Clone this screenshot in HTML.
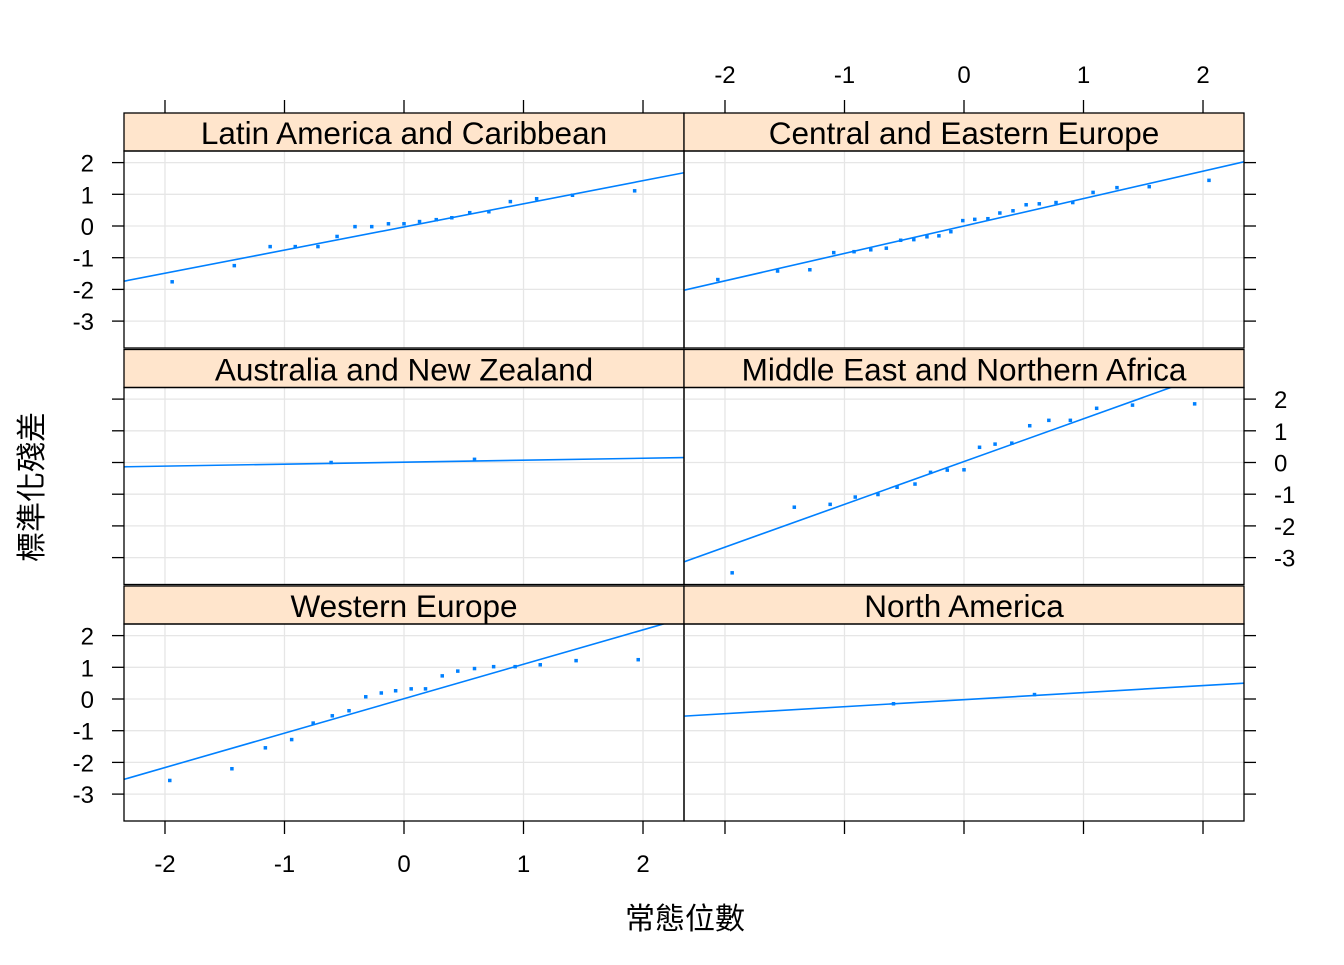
<!DOCTYPE html>
<html><head><meta charset="utf-8"><style>
body{margin:0;background:#fff}
svg text{font-family:"Liberation Sans","Noto Sans CJK TC",sans-serif;fill:#000}
</style></head><body>
<svg id="c" width="1344" height="960" xmlns="http://www.w3.org/2000/svg"></svg>
<script>
const panelNames = ["Latin America and Caribbean","Central and Eastern Europe","Australia and New Zealand","Middle East and Northern Africa","Western Europe","North America"];
const xTicks = [-2,-1,0,1,2];
const yTicks = [2,1,0,-1,-2,-3];
const latX = [-1.94,-1.42,-1.12,-0.91,-0.72,-0.56,-0.41,-0.27,-0.13,0.00,0.13,0.27,0.40,0.55,0.71,0.89,1.11,1.41,1.93];
const latY = [-1.76,-1.25,-0.65,-0.65,-0.65,-0.33,-0.02,-0.02,0.07,0.07,0.14,0.20,0.26,0.42,0.45,0.77,0.86,0.97,1.11];
const ceeX = [-2.06,-1.56,-1.29,-1.09,-0.92,-0.78,-0.65,-0.53,-0.42,-0.31,-0.21,-0.11,-0.01,0.09,0.20,0.30,0.41,0.52,0.63,0.77,0.91,1.08,1.28,1.55,2.05];
const ceeY = [-1.69,-1.42,-1.38,-0.84,-0.81,-0.75,-0.70,-0.45,-0.43,-0.34,-0.31,-0.18,0.17,0.21,0.23,0.41,0.48,0.67,0.70,0.74,0.74,1.06,1.21,1.24,1.44];
const ausX = [-0.61,0.59];
const ausY = [0.00,0.10];
const meX = [-1.94,-1.42,-1.12,-0.91,-0.72,-0.56,-0.41,-0.28,-0.14,0.00,0.13,0.26,0.40,0.55,0.71,0.89,1.11,1.41,1.93];
const meY = [-3.48,-1.41,-1.32,-1.09,-1.01,-0.78,-0.68,-0.31,-0.24,-0.23,0.48,0.58,0.61,1.16,1.33,1.33,1.71,1.81,1.85];
const weX = [-1.96,-1.44,-1.16,-0.94,-0.76,-0.60,-0.46,-0.32,-0.19,-0.07,0.06,0.18,0.32,0.45,0.59,0.75,0.93,1.14,1.44,1.96];
const weY = [-2.57,-2.20,-1.54,-1.28,-0.76,-0.53,-0.37,0.07,0.19,0.26,0.32,0.32,0.73,0.88,0.96,1.02,1.02,1.08,1.21,1.24];
const naX = [-0.59,0.59];
const naY = [-0.15,0.14];
const lineSlope = [0.73,0.865,0.062,1.35,1.086,0.222];
const lineIntercept = [-0.03,0.0,0.01,0.03,0.01,-0.02];
const seriesX = [latX,ceeX,ausX,meX,weX,naX];
const seriesY = [latY,ceeY,ausY,meY,weY,naY];

const NS="http://www.w3.org/2000/svg";
const svg=document.getElementById('c');
function mk(tag,attrs,parent){const e=document.createElementNS(NS,tag);for(const k in attrs)e.setAttribute(k,attrs[k]);(parent||svg).appendChild(e);return e;}
const colL=[124,684], W=560, PH=197;
const rowStrip=[113,349.5,586], SH=38;
const XMIN=-2.343, XMAX=2.343, YTOP=2.366, UNIT_Y=31.7;
function sx(col,v){return colL[col]+(v-XMIN)/(XMAX-XMIN)*W;}
function sy(row,v){return rowStrip[row]+SH+(YTOP-v)*UNIT_Y;}
const defs=mk('defs',{});
for(let p=0;p<6;p++){
  const col=p%2,row=Math.floor(p/2);
  const x0=colL[col],ps=rowStrip[row]+SH;
  const cp=mk('clipPath',{id:'cp'+p},defs);
  mk('rect',{x:x0,y:ps,width:W,height:PH},cp);
  const g=mk('g',{});
  
  
  for(const t of xTicks){const l=mk('line',{x1:sx(col,t),x2:sx(col,t),y1:ps,y2:ps+PH,stroke:'#e6e6e6','stroke-width':1.3},g);
    }
  for(const t of yTicks){const l=mk('line',{x1:x0,x2:x0+W,y1:sy(row,t),y2:sy(row,t),stroke:'#e6e6e6','stroke-width':1.3},g);
    }
  const ln=mk('line',{x1:sx(col,XMIN),y1:sy(row,lineIntercept[p]+lineSlope[p]*XMIN),x2:sx(col,XMAX),y2:sy(row,lineIntercept[p]+lineSlope[p]*XMAX),stroke:'#0080ff','stroke-width':1.6,'clip-path':'url(#cp'+p+')'},g);
  
  
  const xs=seriesX[p],ys=seriesY[p];
  for(let i=0;i<xs.length;i++){
    const r=mk('rect',{x:sx(col,xs[i])-1.75,y:sy(row,ys[i])-1.75,width:3.5,height:3.5,fill:'#0080ff','clip-path':'url(#cp'+p+')'},g);
    
    
  }
  const st=mk('rect',{x:x0,y:rowStrip[row],width:W,height:SH,fill:'#ffe5cc',stroke:'#000','stroke-width':1.3},g);
  
  
  const tx=mk('text',{x:x0+W/2,y:rowStrip[row]+31,'text-anchor':'middle','font-size':31.5},g);
  tx.textContent=panelNames[p];
  
  
  const bd=mk('rect',{x:x0,y:ps,width:W,height:PH,fill:'none',stroke:'#000','stroke-width':1.3},g);
  
  
  for(const t of yTicks){
    const y=sy(row,t);
    if(col==0){const k=mk('line',{x1:x0-12,x2:x0,y1:y,y2:y,stroke:'#000','stroke-width':1.3},g);
      if(row!=1){const lb=mk('text',{x:x0-30,y:y+9,'text-anchor':'end','font-size':24},g);lb.textContent=t;}}
    else{const k=mk('line',{x1:x0+W,x2:x0+W+12,y1:y,y2:y,stroke:'#000','stroke-width':1.3},g);
      if(row==1){const lb=mk('text',{x:x0+W+30,y:y+9,'text-anchor':'start','font-size':24},g);lb.textContent=t;}}
  }
  for(const t of xTicks){
    const x=sx(col,t);
    if(row==0){const k=mk('line',{x1:x,x2:x,y1:rowStrip[0]-13,y2:rowStrip[0],stroke:'#000','stroke-width':1.3},g);
      if(col==1){const lb=mk('text',{x:x,y:83,'text-anchor':'middle','font-size':24},g);lb.textContent=t;}}
    if(row==2){const yb=ps+PH;const k=mk('line',{x1:x,x2:x,y1:yb,y2:yb+13,stroke:'#000','stroke-width':1.3},g);
      if(col==0){const lb=mk('text',{x:x,y:872,'text-anchor':'middle','font-size':24},g);lb.textContent=t;}}
  }
}
const xl=mk('text',{x:685,y:929,'text-anchor':'middle','font-size':30});
xl.textContent='常態位數';


const yl=mk('text',{x:0,y:0,'text-anchor':'middle','font-size':30,transform:'translate(42,487) rotate(-90)'});
yl.textContent='標準化殘差';


</script>
</body></html>
